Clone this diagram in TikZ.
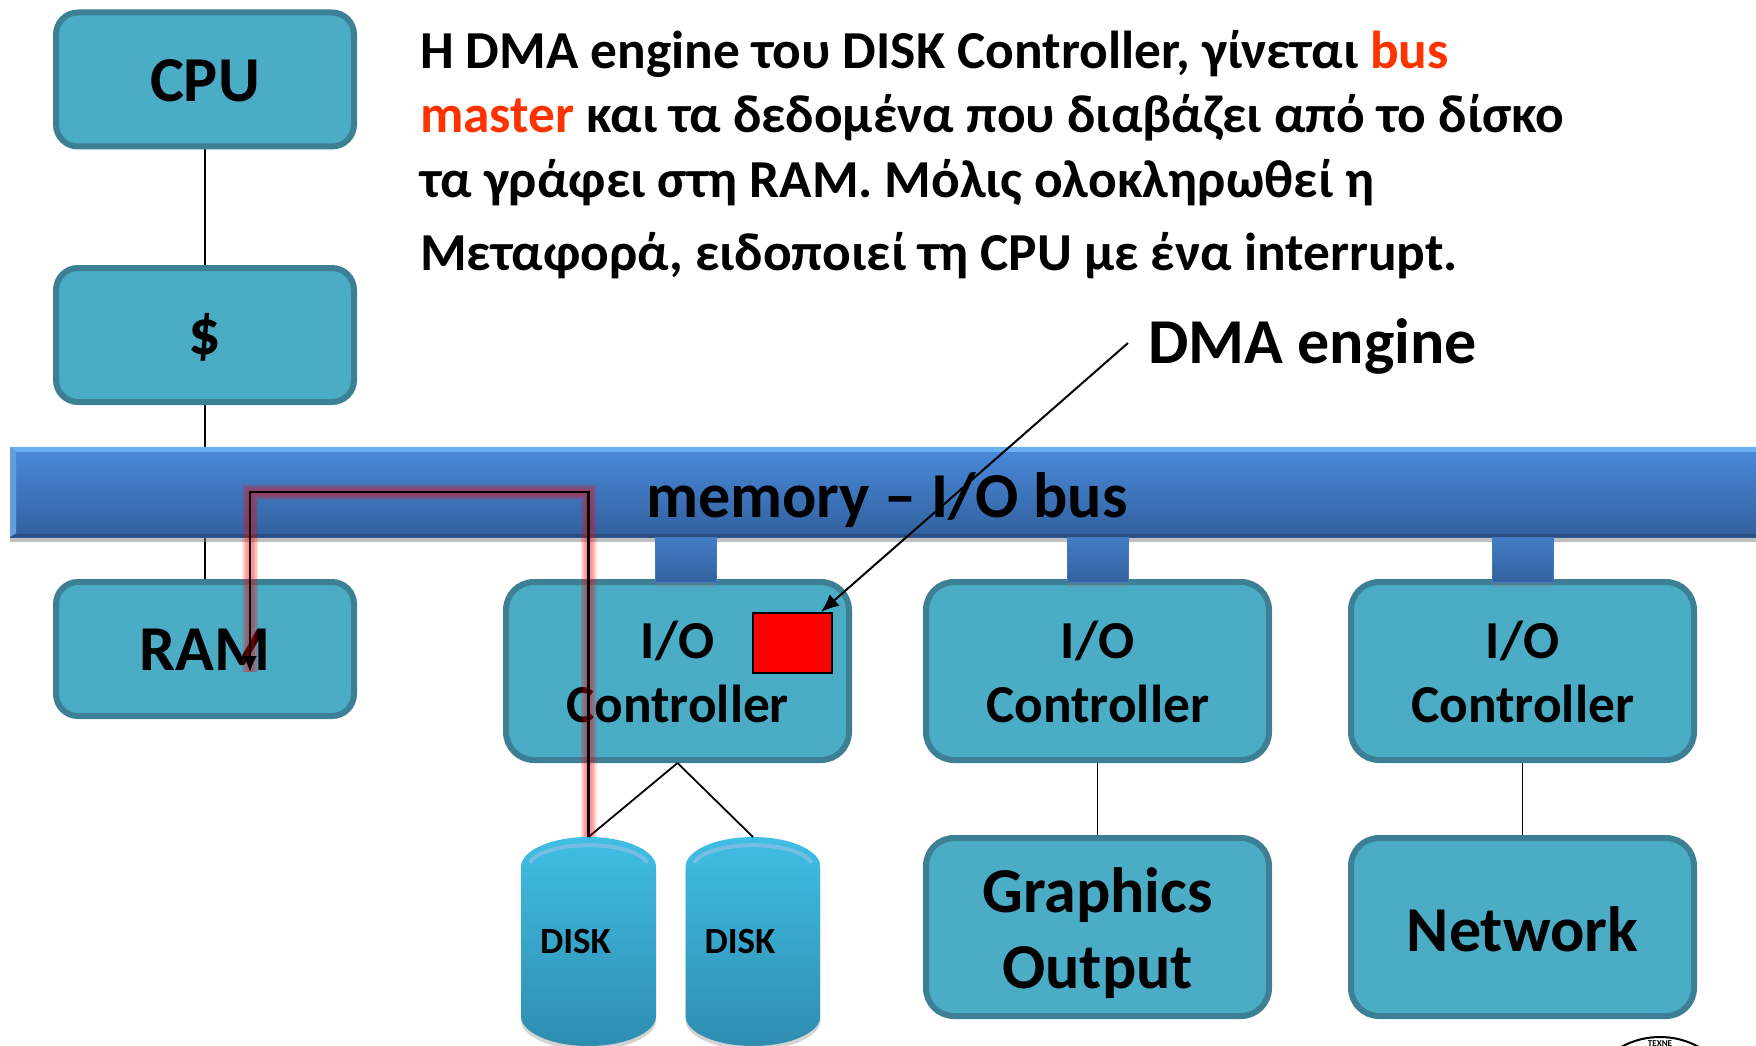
\documentclass[tikz,border=0pt]{standalone}
\usepackage{fontspec}
\setmainfont{Carlito}
\usetikzlibrary{shadows,arrows,arrows.meta,positioning}
\pgfdeclarelayer{background}
\pgfdeclarelayer{foreground}
\pgfsetlayers{background,main,foreground}
\definecolor{boxfill}{HTML}{4BACC6}
\definecolor{boxedge}{HTML}{3D7F95}
\definecolor{hotword}{HTML}{FF3300}
\definecolor{bbtop}{HTML}{4A8BDB}
\definecolor{bbbot}{HTML}{32609E}
\definecolor{bbrim}{HTML}{6DB2F0}
\definecolor{diskhi}{HTML}{40BEE4}
\definecolor{disklo}{HTML}{2E8DB0}
\tikzstyle{unitbox} = [draw=boxedge, fill=boxfill, line width=6pt, text centered, minimum width=298pt, minimum height=134pt, rounded corners=22pt, text height=46pt, text depth=2.5pt, font=\fontsize{64}{68}\selectfont\bfseries]
\tikzstyle{iobox} = [unitbox, minimum width=343pt, minimum height=178pt, rounded corners=28pt, align=center, text height=103pt, text depth=0pt, font=\fontsize{53.4}{64}\selectfont\bfseries]
\tikzstyle{devbox} = [iobox, text height=49pt, text depth=0pt, font=\fontsize{64}{76}\selectfont\bfseries]
\tikzstyle{busbar} = [top color=bbtop, bottom color=bbbot, minimum width=1760pt, minimum height=90pt, anchor=west, inner sep=0pt, drop shadow={shadow xshift=0pt,shadow yshift=-5pt,opacity=0.5}]
\tikzstyle{bustab} = [top color=bbtop!90!black, bottom color=bbbot, draw=bbtop!60!bbbot, line width=1pt, minimum width=61pt, minimum height=45pt, inner sep=0pt, drop shadow={shadow xshift=0pt,shadow yshift=-4pt,opacity=0.3}]
\tikzstyle{textline} = [anchor=base west, inner sep=0pt, font=\fontsize{53.4}{60}\selectfont\bfseries]
\tikzstyle{disktext} = [inner sep=0pt, font=\fontsize{37}{40}\selectfont\bfseries]
\tikzstyle{diskbody} = [top color=diskhi, bottom color=disklo, drop shadow={shadow xshift=0pt,shadow yshift=-4pt,opacity=0.35}]
\tikzstyle{wire} = [draw, line width=1.8pt]
\tikzstyle{pointer} = [draw, line width=2pt, -{Latex[length=18pt,width=15pt]}]
\newcommand{\unitbox}[2]{node (#1) [unitbox] {#2}}
\newcommand{\iobox}[2]{node (#1) [iobox] {#2}}
\newcommand{\devbox}[2]{node (#1) [devbox] {#2}}
\newcommand{\bustab}[1]{node (#1) [bustab] {}}
\newcommand{\textline}[2]{node (#1) [textline] {#2}}
\newcommand{\disk}[2]{%
\path[diskbody] ([shift={(-67.5,74.5)}]#2) arc[start angle=180,end angle=0,x radius=67.5,y radius=30] -- ++(0,-149) arc[start angle=0,end angle=-180,x radius=67.5,y radius=30] -- cycle;
% Light rim along the top
\draw[line width=4pt, color=cyan!30!diskhi!70!white, line cap=round] ([shift={(-58,80)}]#2) arc[start angle=165,end angle=15,x radius=60,y radius=22];
\coordinate (#1t) at ([yshift=104.5]#2);
\path (#2)+(-13,0) node (#1) [disktext] {DISK};}
\begin{document}
\begin{tikzpicture}[x=1pt,y=1pt]
\useasboundingbox (0,0) rectangle (1756,-1046);
\clip (0,0) rectangle (1756,-1046);
\path (205,-79.5) \unitbox{cpu}{CPU};
\path (cpu)+(0,-255.5) \unitbox{cache}{\raisebox{2pt}{\$}};
\path (cache)+(0,-314) \unitbox{ram}{RAM};
\path (10,-492) node (bus) [busbar] {};
\path[fill=bbrim] (bus.north west) -- (bus.north east) -- ++(0,-5) -- ([shift={(6,-5)}]bus.north west) -- cycle;
\path[fill=bbtop!85!white] (bus.north west) -- ([shift={(6,-5)}]bus.north west) -- ([shift={(6,4)}]bus.south west) -- (bus.south west) -- cycle;
\path[fill=bbbot!80!black] (bus.south west) -- ([shift={(6,3)}]bus.south west) -- ([yshift=3]bus.south east) -- (bus.south east) -- cycle;
\path (887,-500) node (busname) [inner sep=0pt, font=\fontsize{64}{68}\selectfont\bfseries] {memory -- I/O bus};
\path (677.5,-671) \iobox{io1}{I/O\\Controller};
\path (io1)+(420,0) \iobox{io2}{I/O\\Controller};
\path (io2)+(425,0) \iobox{io3}{I/O\\Controller};
\path (io2)+(0,-256) node (gfx) [devbox, text height=123pt] {Graphics\\Output};
\path (io3)+(0,-256) \devbox{net}{Network};
\path (io1)+(8,111) \bustab{tab1};
\path (io2)+(0.5,111) \bustab{tab2};
\path (io3)+(0,111) \bustab{tab3};
\path (792,-643) node (dma) [draw=black, fill=red, line width=2pt, minimum width=79pt, minimum height=60pt] {};
\coordinate (d1c) at (588.5,-941.5);
\coordinate (d2c) at (753,-941.5);
\disk{d1}{d1c}
\disk{d2}{d2c}
% Plain links
\begin{pgfonlayer}{background}
\path [wire] (cpu.south) -- (cache.north);
\path [wire] (cache.south) -- (ram.north);
\end{pgfonlayer}
\path [wire] (io1.south) -- (d1t);
\path [wire] (io1.south) -- (d2t);
\path [wire] (io2.south) -- (gfx.north);
\path [wire] (io3.south) -- (net.north);
% Text
\path (420,-69) \textline{t1}{Η DMA engine του DISK Controller, γίνεται \textcolor{hotword}{bus}};
\path (t1.base west)+(0,-64) \textline{t2}{\textcolor{hotword}{master} και τα δεδομένα που διαβάζει από το δίσκο};
\path (t2.base west)+(0,-64) \textline{t3}{τα γράφει στη RAM. Μόλις ολοκληρωθεί η};
\path (t3.base west)+(0,-73) \textline{t4}{Μεταφορά, ειδοποιεί τη CPU με ένα interrupt.};
\path (1148,-346) node (dmaname) [anchor=west, inner sep=0pt, font=\fontsize{64}{68}\selectfont\bfseries] {DMA engine};
\path [pointer] ([shift={(-20,3)}]dmaname.west) -- ([xshift=29]dma.north);
% Data route from the disk to the memory
\coordinate (rtop) at (d1t |- 0,-492);
\coordinate (rend) at (250,-672);
\foreach \w in {16,13,10,7}
  \draw[red, opacity=0.13, line width=\w pt] (d1t) -- (rtop) -- (rtop -| rend) -- (rend);
\path [draw, line width=2.5pt, -{Latex[length=16pt,width=14pt]}] (d1t) -- (rtop) -- (rtop -| rend) -- (rend);
% Corner of the seal
\coordinate (seal) at (1660,-1117);
\draw[line width=2pt] (seal) circle (80);
\path (seal)+(0,73.5) node (sealname) [inner sep=0pt, font=\fontsize{9}{10}\selectfont\bfseries] {ΤΕΧΝΕ};
\end{tikzpicture}
\end{document}
